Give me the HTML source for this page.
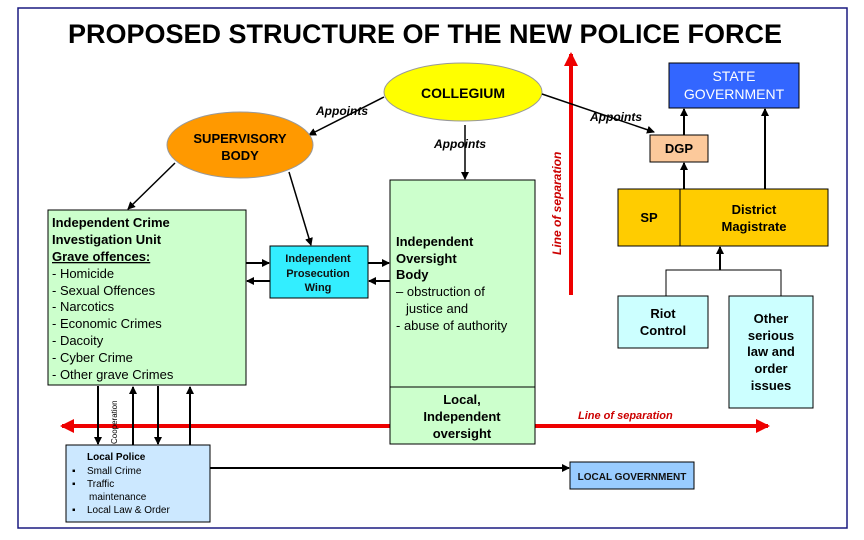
<!DOCTYPE html>
<html><head><meta charset="utf-8"><style>
body{margin:0;width:864px;height:540px;background:#fff;overflow:hidden}
svg{display:block;font-family:"Liberation Sans",Arial,sans-serif}
</style></head><body>
<svg width="864" height="540" viewBox="0 0 864 540">
<defs>
<marker id="a" markerWidth="8" markerHeight="8" refX="7" refY="4" orient="auto" markerUnits="userSpaceOnUse"><path d="M0,0L8,4L0,8z" fill="#000"/></marker>
<marker id="r" markerWidth="14" markerHeight="14" refX="12" refY="7" orient="auto" markerUnits="userSpaceOnUse"><path d="M0,0L14,7L0,14z" fill="#e00"/></marker>
</defs>
<rect x="18" y="8" width="829" height="520" fill="none" stroke="#1a1a80" stroke-width="1.5"/>
<text x="425" y="43" font-size="27" font-weight="bold" text-anchor="middle">PROPOSED STRUCTURE OF THE NEW POLICE FORCE</text>

<!-- red lines -->
<line x1="571" y1="295" x2="571" y2="54" stroke="#e00" stroke-width="4" marker-end="url(#r)"/>
<text transform="translate(561,255) rotate(-90)" font-size="12" font-style="italic" font-weight="bold" fill="#c00">Line of separation</text>
<line x1="390" y1="426" x2="62" y2="426" stroke="#e00" stroke-width="4" marker-end="url(#r)"/>
<line x1="535" y1="426" x2="768" y2="426" stroke="#e00" stroke-width="4" marker-end="url(#r)"/>
<text x="578" y="419" font-size="11" font-style="italic" font-weight="bold" fill="#c00">Line of separation</text>

<!-- collegium -->
<ellipse cx="463" cy="92" rx="79" ry="29" fill="#ffff00" stroke="#999"/>
<text x="463" y="98" font-size="14" font-weight="bold" text-anchor="middle">COLLEGIUM</text>
<rect x="669" y="63" width="130" height="45" fill="#3366ff" stroke="#000"/>
<text x="734" y="81" font-size="14" fill="#fff" text-anchor="middle">STATE</text>
<text x="734" y="99" font-size="14" fill="#fff" text-anchor="middle">GOVERNMENT</text>
<rect x="650" y="135" width="58" height="27" fill="#fcc99b" stroke="#000"/>
<text x="679" y="153" font-size="13" font-weight="bold" text-anchor="middle">DGP</text>
<rect x="618" y="189" width="210" height="57" fill="#ffcc00" stroke="#000"/>
<line x1="680" y1="189" x2="680" y2="246" stroke="#000"/>
<text x="649" y="222" font-size="13" font-weight="bold" text-anchor="middle">SP</text>
<text x="754" y="214" font-size="13" font-weight="bold" text-anchor="middle">District</text>
<text x="754" y="231" font-size="13" font-weight="bold" text-anchor="middle">Magistrate</text>
<rect x="618" y="296" width="90" height="52" fill="#ccffff" stroke="#000"/>
<text x="663" y="318" font-size="13" font-weight="bold" text-anchor="middle">Riot</text>
<text x="663" y="335" font-size="13" font-weight="bold" text-anchor="middle">Control</text>
<rect x="729" y="296" width="84" height="112" fill="#ccffff" stroke="#000"/>
<g font-size="13" font-weight="bold" text-anchor="middle"><text x="771" y="323">Other</text><text x="771" y="340">serious</text><text x="771" y="356">law and</text><text x="771" y="373">order</text><text x="771" y="390">issues</text></g>
<polyline points="666,296 666,270 781,270 781,296" fill="none" stroke="#000"/>
<line x1="720" y1="270" x2="720" y2="247" stroke="#000" stroke-width="2" marker-end="url(#a)"/>
<line x1="684" y1="189" x2="684" y2="163" stroke="#000" stroke-width="2" marker-end="url(#a)"/>
<line x1="684" y1="135" x2="684" y2="109" stroke="#000" stroke-width="2" marker-end="url(#a)"/>
<line x1="765" y1="189" x2="765" y2="109" stroke="#000" stroke-width="2" marker-end="url(#a)"/>

<!-- appoints -->
<line x1="542" y1="94" x2="654" y2="132" stroke="#000" stroke-width="1.5" marker-end="url(#a)"/>
<text x="590" y="121" font-size="12" font-style="italic" font-weight="bold">Appoints</text>
<line x1="384" y1="97" x2="309" y2="135" stroke="#000" stroke-width="1.5" marker-end="url(#a)"/>
<text x="316" y="115" font-size="12" font-style="italic" font-weight="bold">Appoints</text>
<line x1="465" y1="125" x2="465" y2="179" stroke="#000" stroke-width="1.5" marker-end="url(#a)"/>
<text x="434" y="148" font-size="12" font-style="italic" font-weight="bold">Appoints</text>

<!-- supervisory -->
<ellipse cx="240" cy="145" rx="73" ry="33" fill="#ff9900" stroke="#999"/>
<text x="240" y="143" font-size="13" font-weight="bold" text-anchor="middle">SUPERVISORY</text>
<text x="240" y="160" font-size="13" font-weight="bold" text-anchor="middle">BODY</text>
<line x1="175" y1="163" x2="128" y2="209" stroke="#000" stroke-width="1.5" marker-end="url(#a)"/>
<line x1="289" y1="172" x2="311" y2="245" stroke="#000" stroke-width="1.5" marker-end="url(#a)"/>

<!-- ICIU -->
<rect x="48" y="210" width="198" height="175" fill="#ccffcc" stroke="#000"/>
<g font-size="13"><text x="52" y="227" font-weight="bold">Independent Crime</text><text x="52" y="244" font-weight="bold">Investigation Unit</text><text x="52" y="261" font-weight="bold" text-decoration="underline">Grave offences:</text>
<text x="52" y="278">- Homicide</text><text x="52" y="295">- Sexual Offences</text><text x="52" y="311">- Narcotics</text><text x="52" y="328">- Economic Crimes</text><text x="52" y="345">- Dacoity</text><text x="52" y="362">- Cyber Crime</text><text x="52" y="379">- Other grave Crimes</text></g>

<rect x="270" y="246" width="98" height="52" fill="#33eeff" stroke="#000"/>
<g font-size="11" font-weight="bold" text-anchor="middle" fill="#111"><text x="318" y="262">Independent</text><text x="318" y="277">Prosecution</text><text x="318" y="291">Wing</text></g>
<line x1="246" y1="263" x2="269" y2="263" stroke="#000" stroke-width="2" marker-end="url(#a)"/>
<line x1="270" y1="281" x2="247" y2="281" stroke="#000" stroke-width="2" marker-end="url(#a)"/>
<line x1="368" y1="263" x2="389" y2="263" stroke="#000" stroke-width="2" marker-end="url(#a)"/>
<line x1="390" y1="281" x2="369" y2="281" stroke="#000" stroke-width="2" marker-end="url(#a)"/>

<rect x="390" y="180" width="145" height="264" fill="#ccffcc" stroke="#000"/>
<line x1="390" y1="387" x2="535" y2="387" stroke="#000"/>
<g font-size="13"><text x="396" y="246" font-weight="bold">Independent</text><text x="396" y="263" font-weight="bold">Oversight</text><text x="396" y="279" font-weight="bold">Body</text>
<text x="396" y="296">– obstruction of</text><text x="406" y="313">justice and</text><text x="396" y="330">- abuse of authority</text></g>
<g font-size="13" font-weight="bold" text-anchor="middle"><text x="462" y="404">Local,</text><text x="462" y="421">Independent</text><text x="462" y="438">oversight</text></g>

<!-- local police -->
<g stroke="#000" stroke-width="2">
<line x1="98" y1="386" x2="98" y2="444" marker-end="url(#a)"/>
<line x1="133" y1="445" x2="133" y2="387" marker-end="url(#a)"/>
<line x1="158" y1="386" x2="158" y2="444" marker-end="url(#a)"/>
<line x1="190" y1="445" x2="190" y2="387" marker-end="url(#a)"/>
</g>
<text transform="translate(117,444) rotate(-90)" font-size="8">Cooperation</text>
<rect x="66" y="445" width="144" height="77" fill="#cce8ff" stroke="#000"/>
<g font-size="10"><text x="87" y="460" font-weight="bold">Local Police</text>
<text x="72" y="474">▪</text><text x="87" y="474">Small Crime</text>
<text x="72" y="487">▪</text><text x="87" y="487">Traffic</text><text x="89" y="500">maintenance</text>
<text x="72" y="513">▪</text><text x="87" y="513">Local Law &amp; Order</text></g>
<line x1="210" y1="468" x2="569" y2="468" stroke="#000" stroke-width="2" marker-end="url(#a)"/>
<rect x="570" y="462" width="124" height="27" fill="#99ccff" stroke="#000"/>
<text x="632" y="480" font-size="10" font-weight="bold" text-anchor="middle" fill="#111">LOCAL GOVERNMENT</text>
</svg>
</body></html>
